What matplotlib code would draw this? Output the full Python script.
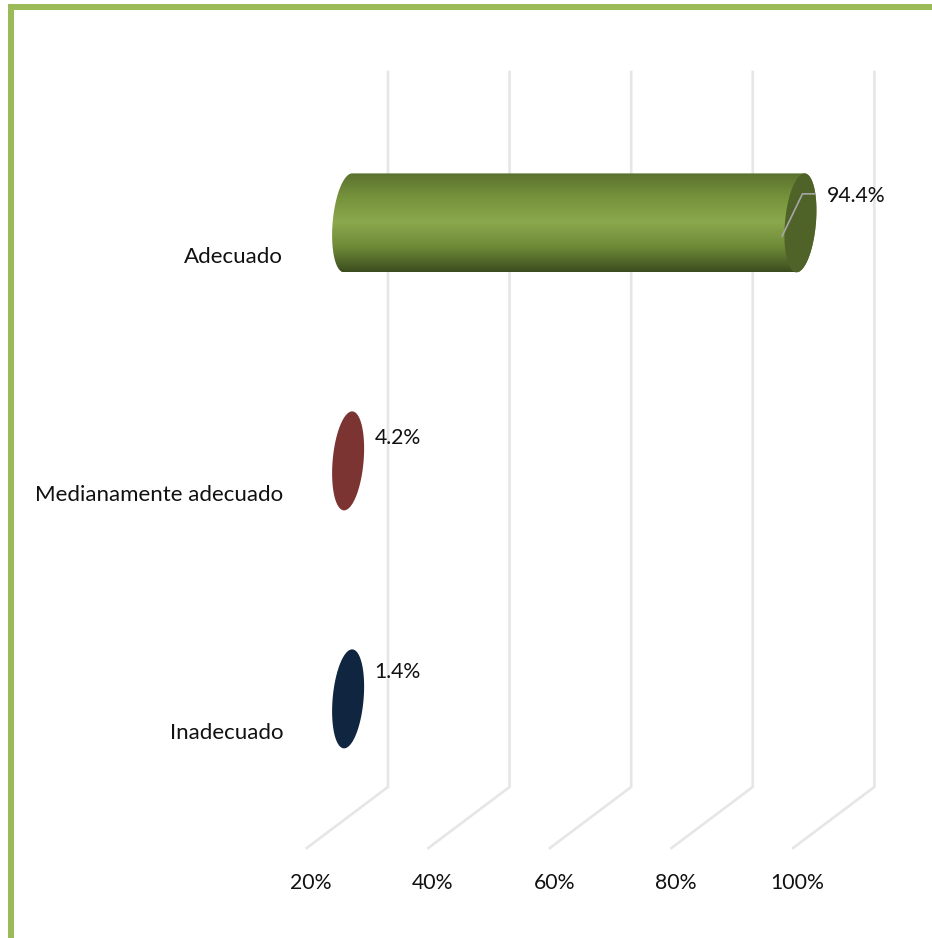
#!/usr/bin/env python3

import matplotlib

matplotlib.use("Agg")
import matplotlib.pyplot as plt
from matplotlib.colors import LinearSegmentedColormap
from matplotlib.patches import Polygon, Rectangle

import numpy as np

plt.rcParams['font.family'] = ['Lato', 'DejaVu Sans']

# Data
categories = ["Inadecuado", "Medianamente adecuado", "Adecuado"]
values = [1.4, 4.2, 94.4]
value_labels = ["1.4%", "4.2%", "94.4%"]
bar_colors = ["#10253F", "#7B3432", "#4F6228"]
x_ticks = [20, 40, 60, 80, 100]
x_tick_labels = ["20%", "40%", "60%", "80%", "100%"]

# Excel style 3D axis: the value axis starts at 20%, bars get cut off there
axis_min = 20

# 3D offsets, x in percent and y in category units
depth_x = 6.1
depth_y = 0.135
ell_a = 2.55
ell_skew = 0.66
ell_b = 0.208

# label offset above the bar end, in points
label_dy = [19, 16.5, 19.5]


def ellipse(cx, cy, t):
    return (cx + ell_a * np.cos(t) + ell_skew * np.sin(t), cy + ell_b * np.sin(t))


fig = plt.figure(figsize=(9.32, 9.38), dpi=100)

# Green frame, only top and left
fig.add_artist(Rectangle((8 / 932, 0), 6 / 932, 934 / 938, transform=fig.transFigure, color="#9BBB59", lw=0))
fig.add_artist(Rectangle((8 / 932, 928 / 938), 924 / 932, 6 / 938, transform=fig.transFigure, color="#9BBB59", lw=0))

ax = fig.add_axes([283 / 932, (938 - 848) / 938, (932 - 283) / 932, (848 - 72) / 938])
for s in ax.spines.values():
    s.set_visible(False)

positions = np.arange(len(categories))

ax.set_xticks(x_ticks)
ax.set_xticklabels(x_tick_labels)
ax.set_yticks(positions)
ax.set_yticklabels(categories)
ax.tick_params(axis='x', length=0, pad=18, labelsize=15.3, labelcolor="#111111")
ax.tick_params(axis='y', length=0, pad=0, labelsize=16, labelcolor="#111111")

# Walls: a floor line and a back line for each tick
y_floor_front, y_floor_back, y_top = -0.4916, -0.235, 2.769
for v in x_ticks:
    ax.plot([v - 0.7, v + 12.66, v + 12.66], [y_floor_front, y_floor_back, y_top],
            color="#E6E6E6", lw=1.9, solid_joinstyle='miter', clip_on=False, zorder=1)

bar_cmap = LinearSegmentedColormap.from_list(
    "bar", ["#5A702E", "#76933C", "#8AA84C", "#6E8A38", "#3C4C1E"])
t_body = np.linspace(np.pi / 2, 3 * np.pi / 2, 60)
t_full = np.linspace(0, 2 * np.pi, 120)

for pos, val, lab, col, dy in zip(positions, values, value_labels, bar_colors, label_dy):
    cy = pos + depth_y
    end_x = max(val, axis_min) + depth_x
    start_x = axis_min + depth_x

    if val > axis_min:
        xl, yl = ellipse(start_x, cy, t_body)
        xr, yr = ellipse(end_x, cy, t_body + np.pi)
        body = Polygon(np.column_stack([np.r_[xl, xr], np.r_[yl, yr]]), closed=True,
                       transform=ax.transData, fc='none', ec='none')
        ax.add_patch(body)
        im = ax.imshow(np.linspace(0, 1, 256).reshape(-1, 1), cmap=bar_cmap, aspect='auto',
                       origin='upper', extent=(start_x - 5, end_x + 5, cy - ell_b, cy + ell_b),
                       zorder=2, interpolation='bilinear')
        im.set_clip_path(body)

    xe, ye = ellipse(end_x, cy, t_full)
    ax.fill(xe, ye, color=col, lw=0, zorder=3)

    if val > axis_min:
        # leader line to the label
        ax.plot([end_x - 3.0, end_x + 0.33, end_x + 2.3], [cy - 0.055, cy + 0.122, cy + 0.122],
                color="#A6A6A6", lw=1.2, zorder=4)

    ax.annotate(lab, (end_x, cy), xytext=(19, dy), textcoords='offset points',
                ha='left', va='center', fontsize=15.3, color="#111111", zorder=5)

# imshow changes the limits
ax.set_xlim(15.39, 122.14)
ax.set_ylim(-0.4916, 2.769)

plt.savefig("out.png", dpi=100)
